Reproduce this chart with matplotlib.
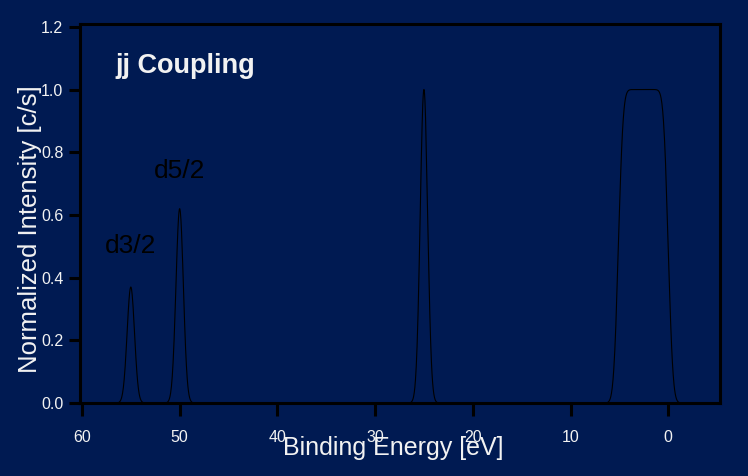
import matplotlib.pyplot as plt
import numpy as np
from math import erf

# Peak parameters (binding energy in eV)
peak_centers = [55.0, 50.0, 25.0]
peak_heights = [0.37, 0.62, 1.0]
peak_sigma = 0.38

# valence band: flat box from 0 to 5.1 eV, smeared by the same broadening
band_edges = (0.0, 5.1)
band_height = 1.0

peak_labels = ["d3/2", "d5/2"]
label_pos = [(55.0, 0.50), (50.0, 0.74)]

xticks = [60, 50, 40, 30, 20, 10, 0]
yticks = [0.0, 0.2, 0.4, 0.6, 0.8, 1.0, 1.2]

bg = '#001a52'

energy = np.linspace(-2.0, 60.0, 3000)
intensity = np.zeros_like(energy)
for c, h in zip(peak_centers, peak_heights):
    intensity += h * np.exp(-0.5 * ((energy - c) / peak_sigma) ** 2)
verf = np.vectorize(erf)
s = np.sqrt(2) * peak_sigma
intensity += band_height * 0.5 * (verf((energy - band_edges[0]) / s) - verf((energy - band_edges[1]) / s))

plt.rcParams['font.family'] = ['Liberation Sans', 'DejaVu Sans']

fig = plt.figure(figsize=(7.48, 4.76), dpi=100, facecolor=bg)
ax = fig.add_axes([80 / 748, 1 - 403 / 476, 640 / 748, 379 / 476])
ax.set_facecolor(bg)

ax.plot(energy, intensity, color='black', lw=0.8)

ax.set_xlim(60.2, -5.3)
ax.set_ylim(0.0, 1.209)
ax.set_xticks(xticks)
ax.set_yticks(yticks)
ax.set_xticklabels([str(t) for t in xticks])
ax.set_yticklabels([f"{t:.1f}" for t in yticks])

for sp in ax.spines.values():
    sp.set_color('black')
    sp.set_linewidth(2.2)

ax.tick_params(axis='x', direction='out', length=9.5, width=2.2, color='black',
               labelcolor='#f2f2f2', labelsize=11.5, pad=10)
ax.tick_params(axis='y', direction='out', length=8, width=2.2, color='black',
               labelcolor='#f2f2f2', labelsize=11.5, pad=4)

ax.set_xlabel("Binding Energy [eV]", color='#f2f2f2', fontsize=18)
ax.xaxis.set_label_coords(0.49, -0.087)
ax.set_ylabel("Normalized Intensity [c/s]", color='#f2f2f2', fontsize=18.5)
ax.yaxis.set_label_coords(-0.060, 0.46)

for lbl, (lx, ly) in zip(peak_labels, label_pos):
    ax.text(lx, ly, lbl, color='black', fontsize=19, ha='center', va='center')

ax.text(56.6, 1.075, "jj Coupling", color='#f2f2f2', fontsize=19.5,
        fontweight='bold', ha='left', va='center')

fig.savefig('out.png', dpi=100, facecolor=bg)
